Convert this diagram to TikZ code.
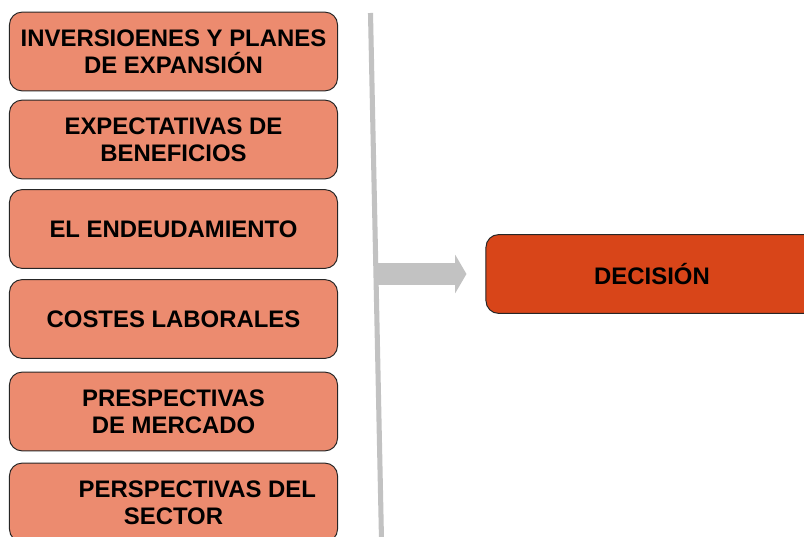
\documentclass[tikz,border=0pt]{standalone}
\usepackage{fontspec}
\setmainfont{Liberation Sans}
\usetikzlibrary{arrows.meta}

\definecolor{factorfill}{HTML}{EC8B6F}
\definecolor{decisionfill}{HTML}{D84519}
\definecolor{bargray}{HTML}{C2C2C2}

\tikzset{
  factor/.style={draw=black!85, line width=0.7pt, fill=factorfill, rounded corners=9pt,
    minimum width=8.2cm, minimum height=1.97cm, align=center,
    font=\fontsize{17}{19.2}\selectfont\bfseries, inner sep=0pt},
  decision/.style={factor, fill=decisionfill, minimum width=8.3cm}
}

\begin{document}
\begin{tikzpicture}[x=0.025cm,y=-0.025cm]
  \pgfmathsetmacro{\boxx}{173.5} % centre of the factor column
  \useasboundingbox (0,0) rectangle (804,537);
  \clip (0,0) rectangle (804,537);

  % Factors
  \node[factor] (inv) at (\boxx,51.5) {INVERSIOENES Y PLANES\\DE EXPANSIÓN};
  \node[factor] (ben) at (\boxx,139.5) {EXPECTATIVAS DE\\BENEFICIOS};
  \node[factor] (end) at (\boxx,229) {EL ENDEUDAMIENTO};
  \node[factor] (cos) at (\boxx,319) {COSTES LABORALES};
  \node[factor] (mer) at (\boxx,411.5) {PRESPECTIVAS\\DE MERCADO};
  \node[factor] (sec) at (\boxx,502.5) {\hspace*{2em}PERSPECTIVAS DEL\\SECTOR};

  % Decision
  \node[decision] (dec) at (652,274) {DECISIÓN};

  % Gray bar and arrow
  \coordinate (bartop) at (370.5,13);
  \coordinate (barbot) at (381.5,540);
  \draw[bargray, line width=3.6pt] (bartop) -- (barbot);
  \coordinate (barmid) at (376,274);
  \draw[bargray, line width=15.5pt, -{Triangle[length=8pt, width=27pt]}]
    (barmid) -- ([xshift=-19*0.025cm]dec.west);
\end{tikzpicture}
\end{document}
